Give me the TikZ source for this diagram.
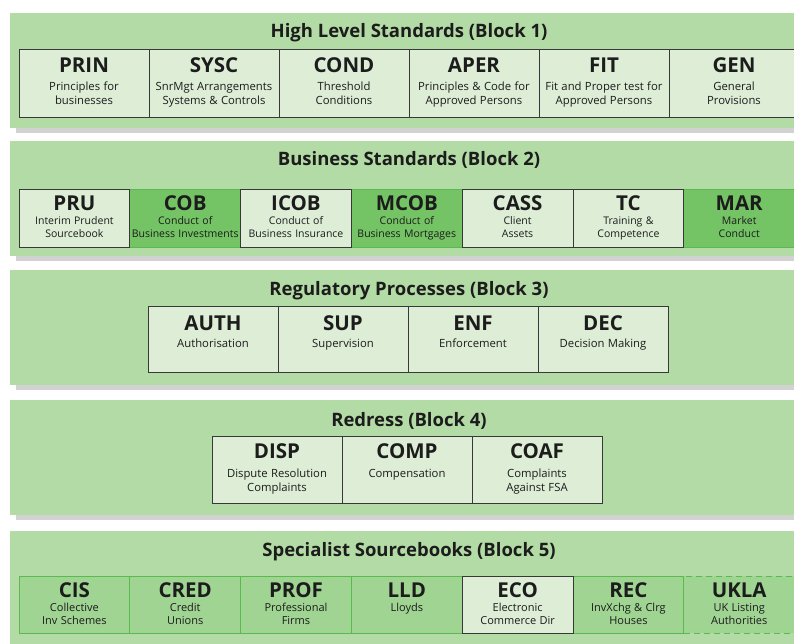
\documentclass[tikz,border=0pt]{standalone}
\usepackage{fontspec}
\setmainfont{Open Sans}
\usetikzlibrary{positioning, shadows}

\definecolor{bandgreen}{HTML}{B3DBA5}
\definecolor{palegreen}{HTML}{DDEDD6}
\definecolor{midgreen}{HTML}{74C365}
\definecolor{softgreen}{HTML}{A0D492}
\definecolor{edgegreen}{HTML}{5BBA4E}
\definecolor{edgedark}{HTML}{383838}
\definecolor{shadowgrey}{HTML}{D2D2D2}
\definecolor{inkgrey}{HTML}{1C1C1C}

\newlength{\subgap}
\newcommand{\subsize}{11}
\newcommand{\celltext}[2]{{\fontsize{20.5}{20.5}\selectfont\bfseries #1\par}\vspace{\subgap}{\fontsize{\subsize}{13.6}\selectfont #2\par}}

\tikzset{
  band/.style={fill=bandgreen, anchor=north west, minimum width=798pt, minimum height=115pt,
    inner sep=0pt, outer sep=0pt,
    drop shadow={shadow xshift=6pt, shadow yshift=-5pt, fill=shadowgrey, opacity=1}},
  title/.style={font=\fontsize{18.5}{21}\selectfont\bfseries, text=inkgrey, inner sep=0pt},
  cell/.style={line width=0.8pt, inner sep=0pt, outer sep=0pt, anchor=north west,
    align=center, text=inkgrey},
  pale/.style={fill=palegreen, draw=edgedark},
  mid/.style={fill=midgreen, draw=edgegreen},
  soft/.style={fill=softgreen, draw=edgegreen},
  softdash/.style={soft, dash pattern=on 6pt off 4pt},
  rowone/.style={cell, pale, text width=130pt, text height=23.5pt, text depth=44.5pt,
    execute at begin node={\setlength{\subgap}{4.4pt}\def\subsize{11.3}}},
  rowtwo/.style={cell, text width=110.8pt, text height=21pt, text depth=37pt,
    execute at begin node={\setlength{\subgap}{0.4pt}\def\subsize{10.5}}},
  rowthree/.style={cell, pale, text width=130pt, text height=24pt, text depth=42pt,
    execute at begin node={\setlength{\subgap}{3.9pt}\def\subsize{11.3}}},
  rowfour/.style={cell, pale, text width=130pt, text height=22.5pt, text depth=44.5pt,
    execute at begin node={\setlength{\subgap}{5.4pt}\def\subsize{11.3}}},
  rowfive/.style={cell, text width=110.8pt, text height=21pt, text depth=36pt,
    execute at begin node={\setlength{\subgap}{0.4pt}\def\subsize{11}}}
}

\begin{document}
\begin{tikzpicture}[x=1pt, y=-1pt]
\useasboundingbox (0,0) rectangle (794,643);
\clip (0,0) rectangle (794,643);

% bands
\node[band] (band1) at (10,13) {};
\node[band] (band2) at (10,141) {};
\node[band] (band3) at (10,270) {};
\node[band] (band4) at (10,400) {};
\node[band] (band5) at (10,531) {};

\node[title, below=24.5pt of band1.north, anchor=base] (title1) {High Level Standards (Block 1)};
\node[title, below=24.5pt of band2.north, anchor=base] (title2) {Business Standards (Block 2)};
\node[title, below=25.5pt of band3.north, anchor=base] (title3) {Regulatory Processes (Block 3)};
\node[title, below=26.5pt of band4.north, anchor=base] (title4) {Redress (Block 4)};
\node[title, below=25.5pt of band5.north, anchor=base] (title5) {Specialist Sourcebooks (Block 5)};

% block 1
\foreach \n/\a/\d [count=\i from 0] in {
  prin/PRIN/{Principles for\\businesses},
  sysc/SYSC/{SnrMgt Arrangements\\Systems \& Controls},
  cond/COND/{Threshold\\Conditions},
  aper/APER/{Principles \& Code for\\Approved Persons},
  fit/FIT/{Fit and Proper test for\\Approved Persons},
  gen/GEN/{General\\Provisions}}
  \node[rowone] (\n) at (19+\i*130, 49) {\celltext{\a}{\d}};

% block 2
\foreach \n/\a/\d/\s/\i in {
  cob/COB/{Conduct of\\Business Investments}/mid/1,
  mcob/MCOB/{Conduct of\\Business Mortgages}/mid/3,
  mar/MAR/{Market\\Conduct}/mid/6,
  pru/PRU/{Interim Prudent\\Sourcebook}/pale/0,
  icob/ICOB/{Conduct of\\Business Insurance}/pale/2,
  cass/CASS/{Client\\Assets}/pale/4,
  tc/TC/{Training \&\\Competence}/pale/5}
  \node[rowtwo, \s] (\n) at (19+\i*110.8, 189) {\celltext{\a}{\d}};

% block 3
\foreach \n/\a/\d [count=\i from 0] in {
  auth/AUTH/Authorisation,
  sup/SUP/Supervision,
  enf/ENF/Enforcement,
  dec/DEC/{Decision Making}}
  \node[rowthree] (\n) at (148+\i*130, 306) {\celltext{\a}{\d}};

% block 4
\foreach \n/\a/\d [count=\i from 0] in {
  disp/DISP/{Dispute Resolution\\Complaints},
  comp/COMP/Compensation,
  coaf/COAF/{Complaints\\Against FSA}}
  \node[rowfour] (\n) at (212+\i*130, 436) {\celltext{\a}{\d}};

% block 5
\foreach \n/\a/\d/\s/\i in {
  cis/CIS/{Collective\\Inv Schemes}/soft/0,
  cred/CRED/{Credit\\Unions}/soft/1,
  prof/PROF/{Professional\\Firms}/soft/2,
  lld/LLD/Lloyds/soft/3,
  ukla/UKLA/{UK Listing\\Authorities}/softdash/6,
  rec/REC/{InvXchg \& Clrg\\Houses}/soft/5,
  eco/ECO/{Electronic\\Commerce Dir}/pale/4}
  \node[rowfive, \s] (\n) at (19+\i*110.8, 576) {\celltext{\a}{\d}};
\end{tikzpicture}
\end{document}
